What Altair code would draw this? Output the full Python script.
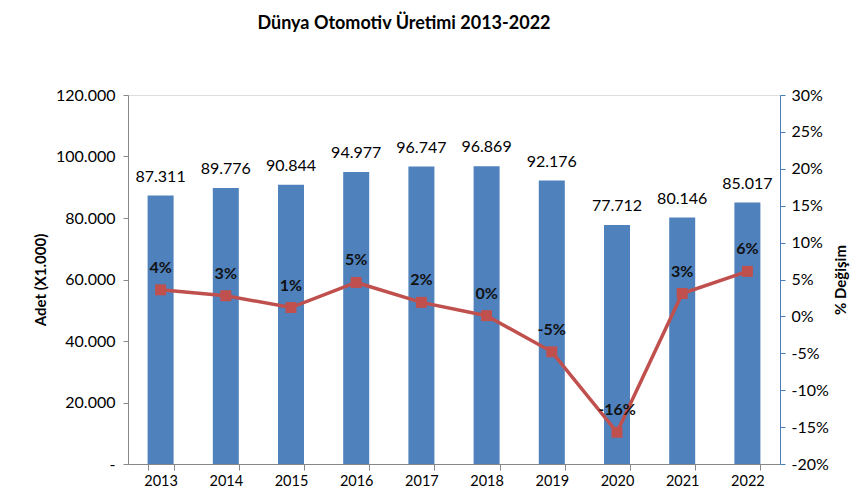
import altair as alt
import pandas as pd

years = ["2013", "2014", "2015", "2016", "2017", "2018", "2019", "2020", "2021", "2022"]
production = [87311, 89776, 90844, 94977, 96747, 96869, 92176, 77712, 80146, 85017]
change_pct = [3.6, 2.8, 1.2, 4.6, 1.9, 0.1, -4.8, -15.7, 3.1, 6.1]

df = pd.DataFrame({
    "year": years,
    "prod": production,
    "pct": [p / 100 for p in change_pct],
})

FONT = "Lato"
BLUE = "#4f81bd"
RED = "#c0504d"

x_enc = alt.X("year:N", sort=years, title=None,
              scale=alt.Scale(paddingInner=0.6, paddingOuter=0.3),
              axis=alt.Axis(labelAngle=0, tickBand="extent", domainColor="#888888",
                            tickColor="#888888", tickSize=6, labelFontSize=14.5,
                            labelColor="#000000", labelPadding=4, labelFont=FONT))

y_left = alt.Y("prod:Q", title="Adet (X1.000)",
               scale=alt.Scale(domain=[0, 120000], nice=False),
               axis=alt.Axis(values=[0, 20000, 40000, 60000, 80000, 100000, 120000],
                             labelExpr="datum.value == 0 ? '-' : replace(format(datum.value, ','), ',', '.')",
                             grid=False, domainColor="#888888", tickColor="#888888",
                             tickSize=5, labelFontSize=16, labelColor="#000000",
                             labelPadding=8, titleFontSize=15, titleFontWeight="bold",
                             titlePadding=7, labelFont=FONT, titleFont=FONT,
                             titleColor="#000000", labelOverlap=False))

bars = alt.Chart(df).mark_bar(color=BLUE, size=26).encode(x=x_enc, y=y_left)
bar_text = alt.Chart(df).mark_text(dy=-19, fontSize=16, font=FONT, color="#000000",
                                   baseline="middle").encode(
    x=alt.X("year:N", sort=years),
    y=y_left,
    text=alt.Text("label:N"),
).transform_calculate(label="replace(format(datum.prod, ','), ',', '.')")

left = alt.layer(bars, bar_text)

y_right = alt.Y("pct:Q", title="% Değişim",
                scale=alt.Scale(domain=[-0.20, 0.30], nice=False),
                axis=alt.Axis(orient="right",
                              values=[-0.2, -0.15, -0.1, -0.05, 0, 0.05, 0.1, 0.15, 0.2, 0.25, 0.3],
                              labelExpr="replace(format(datum.value, '.0%'), '\u2212', '-')",
                              grid=False, domainColor="#4a7ebb", tickColor="#4a7ebb",
                              tickSize=5, labelFontSize=16, labelColor="#000000",
                              labelPadding=6, titleFontSize=15, titleFontWeight="bold",
                              titleAngle=270, titlePadding=20, labelFont=FONT,
                              titleFont=FONT, titleColor="#000000", labelOverlap=False))

line = alt.Chart(df).mark_line(color=RED, strokeWidth=3.5).encode(
    x=alt.X("year:N", sort=years), y=y_right)
pts = alt.Chart(df).mark_point(shape="square", filled=True, color=RED, size=120,
                               opacity=1).encode(
    x=alt.X("year:N", sort=years), y=y_right)
pct_text = alt.Chart(df).mark_text(dy=-22, fontSize=16, fontWeight="bold", font=FONT,
                                   color="#111111").encode(
    x=alt.X("year:N", sort=years), y=y_right,
    text=alt.Text("plabel:N"),
).transform_calculate(plabel="replace(format(datum.pct, '.0%'), '\u2212', '-')")

right = alt.layer(line, pts, pct_text)

chart = alt.layer(left, right).resolve_scale(y="independent").properties(
    width=652, height=369,
    autosize=alt.AutoSizeParams(type="none"),
    padding={"left": 120, "top": 87, "right": 70, "bottom": 28},
    title=alt.TitleParams("Dünya Otomotiv Üretimi 2013-2022", fontSize=18,
                          fontWeight="bold", font=FONT, color="#000000",
                          anchor="middle", offset=54, dx=-50),
).configure_view(stroke=None).configure(background="white")

chart.save("out.html", embed_options={"renderer": "svg", "actions": False})
